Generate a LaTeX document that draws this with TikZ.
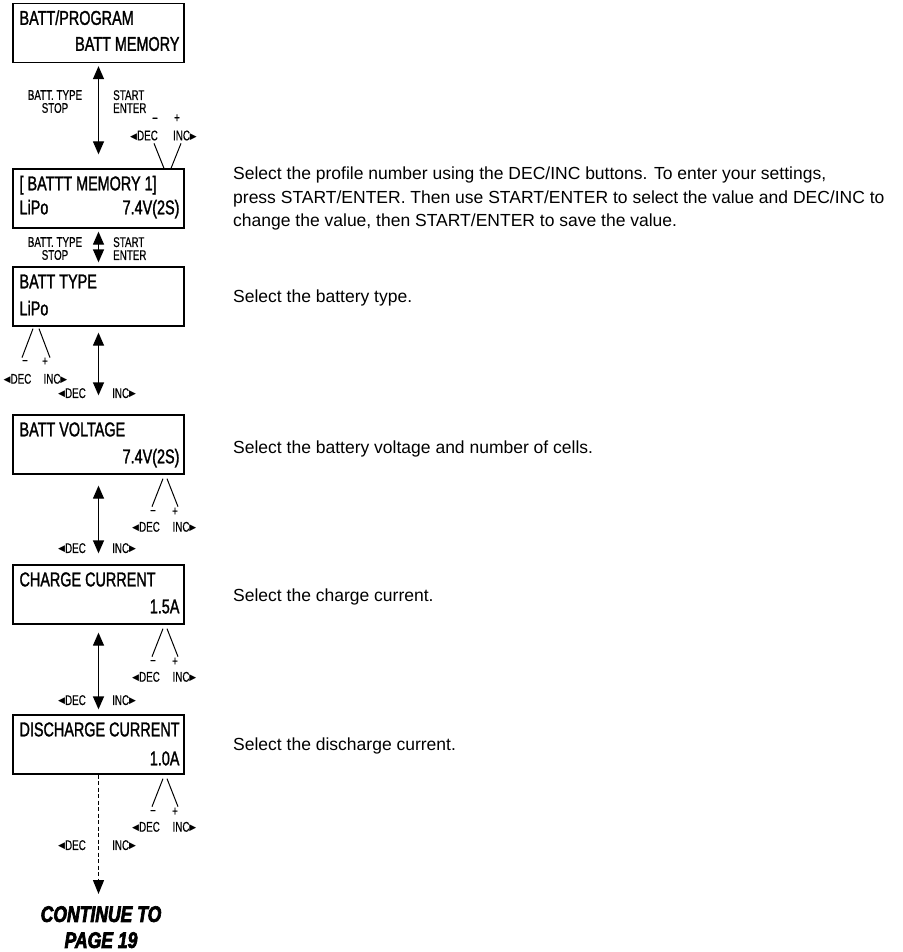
\documentclass[tikz,border=0pt]{standalone}
\usepackage{fontspec}
\setmainfont{Liberation Sans}
\newfontfamily\boxfont{Liberation Sans}[FakeStretch=0.72,FakeBold=1.4]
\newfontfamily\keyfont{Liberation Sans}[FakeStretch=0.7,FakeBold=0.5]
\newfontfamily\symfont{DejaVu Sans}
\newfontfamily\pagefont{Liberation Sans}[FakeStretch=0.78,BoldItalicFeatures={FakeBold=3}]
\usetikzlibrary{arrows.meta,calc,positioning}

\newcommand{\tipl}{{\symfont\fontsize{9}{9}\selectfont\raisebox{1pt}{◀}}}
\newcommand{\tipr}{{\symfont\fontsize{9}{9}\selectfont\raisebox{1pt}{▶}}}

\tikzset{
  screen/.style={draw, line width=1.3pt, minimum width=171pt, minimum height=59pt, inner sep=0pt},
  screenrow/.style={font=\boxfont\fontsize{20}{20}\selectfont, inner sep=0pt},
  keytext/.style={font=\keyfont\fontsize{14}{13}\selectfont, inner sep=0pt, align=center},
  move/.style={line width=1.3pt, {Triangle[width=11pt,length=13pt]}-{Triangle[width=11pt,length=13pt]}},
  fork/.style={line width=1pt},
  desc/.style={font=\fontsize{17.5}{23.5}\selectfont, inner sep=0pt, anchor=base west, align=left},
}

\begin{document}
\begin{tikzpicture}[x=1pt, y=-1pt]
\useasboundingbox (0,0) rectangle (902,952);

% screens
\node[screen] (prog) at (98.5,33) {};
\node[screen] (mem) at (98.5,198.5) {};
\node[screen] (type) at (98.5,296.5) {};
\node[screen] (volt) at (98.5,444.5) {};
\node[screen] (chg) at (98.5,594.5) {};
\node[screen] (dis) at (98.5,744.5) {};

% screen texts
\node[screenrow, anchor=base west] (prog-l1) at ($(prog.north west)+(7,22)$) {BATT/PROGRAM};
\node[screenrow, anchor=base east] (prog-r2) at ($(prog.north east)+(-5,48)$) {BATT MEMORY};
\node[screenrow, anchor=base west] (mem-l1) at ($(mem.north west)+(7,22)$) {[ BATTT MEMORY 1]};
\node[screenrow, anchor=base west] (mem-l2) at ($(mem.north west)+(7,46)$) {LiPo};
\node[screenrow, anchor=base east] (mem-r2) at ($(mem.north east)+(-5,46)$) {7.4V(2S)};
\node[screenrow, anchor=base west] (type-l1) at ($(type.north west)+(7,22)$) {BATT TYPE};
\node[screenrow, anchor=base west] (type-l2) at ($(type.north west)+(7,49)$) {LiPo};
\node[screenrow, anchor=base west] (volt-l1) at ($(volt.north west)+(7,22)$) {BATT VOLTAGE};
\node[screenrow, anchor=base east] (volt-r2) at ($(volt.north east)+(-5,49)$) {7.4V(2S)};
\node[screenrow, anchor=base west] (chg-l1) at ($(chg.north west)+(7,22)$) {CHARGE CURRENT};
\node[screenrow, anchor=base east] (chg-r2) at ($(chg.north east)+(-5,49)$) {1.5A};
\node[screenrow, anchor=base west] (dis-l1) at ($(dis.north west)+(7,22)$) {DISCHARGE CURRENT};
\node[screenrow, anchor=base east] (dis-r2) at ($(dis.north east)+(-5,51)$) {1.0A};

% continue note
\node[font=\pagefont\bfseries\itshape\fontsize{22.5}{26}\selectfont, align=center, inner sep=0pt, anchor=north] (cont) at (101,906) {CONTINUE TO\\PAGE 19};

% arrows between screens
\draw[move, shorten <=3pt, shorten >=14pt] (prog) -- (mem);
\draw[move, shorten <=3pt, shorten >=4pt] (mem) -- (type);
\draw[move, shorten <=6pt, shorten >=19pt] (type) -- (volt);
\draw[move, shorten <=11pt, shorten >=11pt] (volt) -- (chg);
\draw[move, shorten <=8pt, shorten >=5pt] (chg) -- (dis);
\draw[line width=1.3pt, dash pattern=on 4pt off 2.5pt, -{Triangle[width=11pt,length=14pt]}, shorten >=12pt] (dis) -- (dis |- cont.north);

% button labels
\node[keytext, anchor=north] (stop1) at (55,90) {BATT. TYPE\\STOP};
\node[keytext, anchor=north west, align=left] (enter1) at (113,90) {START\\ENTER};
\node[keytext, anchor=north] (stop2) at (55,237) {BATT. TYPE\\STOP};
\node[keytext, anchor=north west, align=left] (enter2) at (113,237) {START\\ENTER};
\foreach \y [count=\i] in {388,543,695,840} {
  \node[keytext, anchor=north east] (dec\i) at (86,\y) {\tipl DEC};
  \node[keytext, anchor=north west] (inc\i) at (112,\y) {INC\tipr};
}

% DEC/INC forks
\draw[fork] ($(mem.north)+(55.5,-25)$) -- ($(mem.north)+(65.5,0)$);
\draw[fork] ($(mem.north)+(82.5,-25)$) -- ($(mem.north)+(72.5,0)$);
\node[keytext] (mem-minus) at ($(mem.north)+(56.5,-48)$) {−};
\node[keytext] (mem-plus) at ($(mem.north)+(78.5,-50)$) {+};
\node[keytext, anchor=north] (mem-dec) at ($(mem.north)+(45.5,-38)$) {\tipl DEC};
\node[keytext, anchor=north] (mem-inc) at ($(mem.north)+(86.5,-38)$) {INC\tipr};

\draw[fork] ($(type.south)+(-65.5,2)$) -- ($(type.south)+(-76.5,31)$);
\draw[fork] ($(type.south)+(-59.5,2)$) -- ($(type.south)+(-48.5,31)$);
\node[keytext] (type-minus) at ($(type.south)+(-73.5,36)$) {−};
\node[keytext] (type-plus) at ($(type.south)+(-53.5,35)$) {+};
\node[keytext, anchor=north] (type-dec) at ($(type.south)+(-81,47)$) {\tipl DEC};
\node[keytext, anchor=north] (type-inc) at ($(type.south)+(-43,47)$) {INC\tipr};

\foreach \s in {volt,chg,dis} {
  \draw[fork] ($(\s.south)+(64.5,4)$) -- ($(\s.south)+(53.5,32)$);
  \draw[fork] ($(\s.south)+(68.5,4)$) -- ($(\s.south)+(79.5,32)$);
  \node[keytext] (\s-minus) at ($(\s.south)+(54.5,38)$) {−};
  \node[keytext] (\s-plus) at ($(\s.south)+(76.5,37)$) {+};
  \node[keytext, anchor=north] (\s-dec) at ($(\s.south)+(47.5,47)$) {\tipl DEC};
  \node[keytext, anchor=north] (\s-inc) at ($(\s.south)+(86,47)$) {INC\tipr};
}

% descriptions
\node[desc, anchor=north west] (mem-txt) at (233,167) {Select the profile number using the DEC/INC buttons. To enter your settings,\\press START/ENTER. Then use START/ENTER to select the value and DEC/INC to\\change the value, then START/ENTER to save the value.};
\node[desc] (type-txt) at (233,302) {Select the battery type.};
\node[desc] (volt-txt) at (233,453) {Select the battery voltage and number of cells.};
\node[desc] (chg-txt) at (233,601) {Select the charge current.};
\node[desc] (dis-txt) at (233,750) {Select the discharge current.};

\end{tikzpicture}
\end{document}
